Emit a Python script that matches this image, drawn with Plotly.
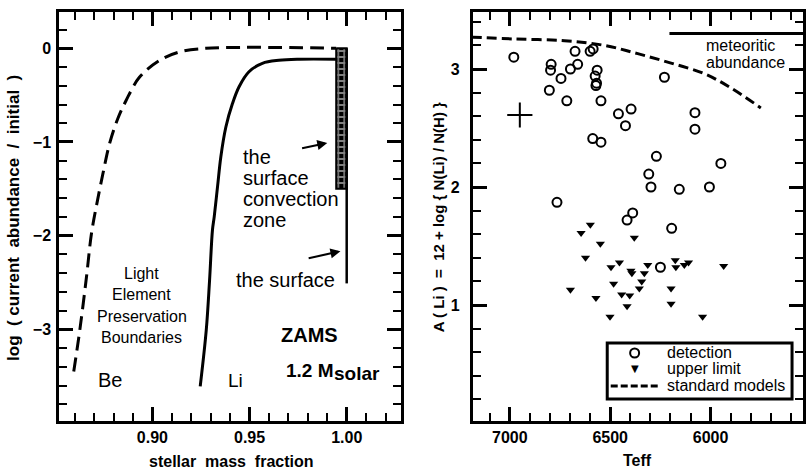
import plotly.graph_objects as go

# ---------------- data: left panel ----------------
be_mass = [0.8595, 0.8626, 0.8660, 0.8686, 0.8711, 0.8745, 0.8779, 0.8822, 0.8865,
           0.8933, 0.9036, 0.9138, 0.9275, 0.9946]
be_logab = [-3.45, -3.01, -2.45, -1.98, -1.69, -1.34, -1.02, -0.75, -0.555,
            -0.31, -0.13, -0.04, 0.0, 0.0]

li_mass = [0.9246, 0.9277, 0.9294, 0.9309, 0.9318, 0.9335, 0.9352, 0.9378, 0.9412,
           0.9446, 0.9497, 0.9566, 0.9651, 0.9754, 0.9946]
li_logab = [-3.61, -3.01, -2.48, -1.94, -1.80, -1.48, -1.16, -0.84, -0.59,
            -0.41, -0.25, -0.16, -0.128, -0.117, -0.117]

czone_mass = [0.9946, 1.0, 1.0, 0.9946, 0.9946]
czone_logab = [0.0, 0.0, -1.5, -1.5, 0.0]
surface_mass = [1.0, 1.0]
surface_logab = [0.0, -2.51]

# ---------------- data: right panel ----------------
teff_det = [6980, 6794, 6797, 6803, 6745, 6716, 6698, 6662, 6675, 6600, 6585, 6565,
            6575, 6571, 6568, 6546, 6587, 6546, 6459, 6396, 6424, 6230, 6078, 6078,
            6270, 6308, 6297, 6156, 6006, 5949, 6765, 6416, 6388, 6194, 6250]
a_det = [3.10, 3.04, 2.99, 2.82, 2.92, 2.73, 3.00, 3.04, 3.15, 3.15, 3.17, 2.99,
         2.94, 2.86, 2.88, 2.73, 2.41, 2.38, 2.62, 2.66, 2.52, 2.93, 2.63, 2.49,
         2.26, 2.11, 2.00, 1.98, 2.00, 2.20, 1.87, 1.72, 1.78, 1.65, 1.32]

teff_ul = [6599, 6645, 6380, 6549, 6623, 6454, 6496, 6397, 6392, 6313, 6330, 6343,
           6355, 6483, 6443, 6403, 6416, 6571, 6698, 6501, 6176, 6173, 6131, 6110,
           6197, 6197, 6040, 5935]
a_ul = [1.68, 1.61, 1.57, 1.52, 1.40, 1.36, 1.32, 1.29, 1.27, 1.34, 1.27, 1.20,
        1.14, 1.18, 1.09, 1.08, 0.99, 1.06, 1.13, 0.90, 1.38, 1.32, 1.34, 1.36,
        1.14, 1.01, 0.90, 1.33]

teff_model = [7190, 6977, 6728, 6529, 6363, 6197, 6031, 5899, 5750]
a_model = [3.27, 3.254, 3.24, 3.20, 3.13, 3.05, 2.96, 2.84, 2.67]

teff_err = [6950]
a_err = [2.61]

teff_met = [6205, 5400]
a_met = [3.30, 3.30]

legend_labels = ["detection", "upper limit", "standard models"]

FONT = "Liberation Sans, Arial, Helvetica, sans-serif"
W, H = 806, 473
PL, PR, PT, PB = 0, 0, 12, 52
PLOT_BOTTOM, PLOT_H = 421, 409


def px(x):
    return x / W


def py(y):
    return (PLOT_BOTTOM - y) / PLOT_H


fig = go.Figure()

# left panel traces
fig.add_trace(go.Scatter(x=be_mass, y=be_logab, mode="lines", line_shape="spline",
                         line=dict(color="black", width=3, dash="14px,7px"),
                         xaxis="x", yaxis="y"))
fig.add_trace(go.Scatter(x=li_mass, y=li_logab, mode="lines", line_shape="spline",
                         line=dict(color="black", width=3),
                         xaxis="x", yaxis="y"))
fig.add_trace(go.Scatter(x=czone_mass, y=czone_logab, mode="lines", fill="toself",
                         fillpattern=dict(shape="+", bgcolor="black", fgcolor="white",
                                          size=6, solidity=0.5),
                         line=dict(color="black", width=2),
                         xaxis="x", yaxis="y"))
fig.add_trace(go.Scatter(x=surface_mass, y=surface_logab, mode="lines",
                         line=dict(color="black", width=2.5),
                         xaxis="x", yaxis="y"))

# right panel traces
fig.add_trace(go.Scatter(x=teff_det, y=a_det, mode="markers", name=legend_labels[0],
                         marker=dict(symbol="circle-open", size=9, color="black",
                                     line=dict(width=2, color="black")),
                         xaxis="x2", yaxis="y2"))
fig.add_trace(go.Scatter(x=teff_ul, y=a_ul, mode="markers", name=legend_labels[1],
                         marker=dict(symbol="triangle-down", size=8, color="black"),
                         xaxis="x2", yaxis="y2"))
fig.add_trace(go.Scatter(x=teff_model, y=a_model, mode="lines", name=legend_labels[2],
                         line_shape="spline",
                         line=dict(color="black", width=3, dash="10px,5px"),
                         xaxis="x2", yaxis="y2"))
fig.add_trace(go.Scatter(x=teff_err, y=a_err, mode="markers",
                         marker=dict(symbol="cross-thin", size=18,
                                     line=dict(width=2, color="black")),
                         xaxis="x2", yaxis="y2"))
fig.add_trace(go.Scatter(x=teff_met, y=a_met, mode="lines",
                         line=dict(color="black", width=3),
                         xaxis="x2", yaxis="y2"))

tickfont = dict(family=FONT, size=16, color="black", weight="bold")
common = dict(showline=True, linewidth=3, linecolor="black", mirror="ticks",
              ticks="inside", ticklen=14, tickwidth=3, tickcolor="black",
              showgrid=False, zeroline=False, tickfont=tickfont)

fig.update_layout(
    width=W, height=H, margin=dict(l=PL, r=PR, t=PT, b=PB),
    paper_bgcolor="white", plot_bgcolor="white", showlegend=False,
    font=dict(family=FONT, color="black"),
    xaxis=dict(domain=[59.5 / W, 402.5 / W], range=[0.85205, 1.02795],
               tickvals=[0.90, 0.95, 1.00], ticktext=["0.90", "0.95", "1.00"],
               minor=dict(tickmode="linear", tick0=0.9, dtick=0.01, ticklen=8,
                          tickwidth=2, ticks="inside", tickcolor="black"),
               anchor="y", **common),
    yaxis=dict(domain=[0, 1], range=[-3.979, 0.3875],
               tickvals=[-3, -2, -1, 0], ticktext=["\u22123", "\u22122", "\u22121", "0"],
               minor=dict(tickmode="linear", tick0=0, dtick=0.2, ticklen=8,
                          tickwidth=2, ticks="inside", tickcolor="black"),
               anchor="x", ticklabelstandoff=2, **common),
    xaxis2=dict(domain=[474.7 / W, 1.0], range=[7183.5, 5540],
                tickvals=[7000, 6500, 6000], ticktext=["7000", "6500", "6000"],
                minor=dict(tickmode="linear", tick0=0, dtick=100, ticklen=8,
                           tickwidth=2, ticks="inside", tickcolor="black"),
                anchor="y2", **common),
    yaxis2=dict(domain=[0, 1], range=[0.017, 3.483],
                tickvals=[1, 2, 3], ticktext=["1", "2", "3"],
                minor=dict(tickmode="linear", tick0=0, dtick=0.2, ticklen=8,
                           tickwidth=2, ticks="inside", tickcolor="black"),
                anchor="x2", ticklabelstandoff=7, **common),
)


def ann(text, x, y, xref="x", yref="y", size=16, xanchor="left", bold=False, angle=0,
        family=FONT):
    t = "<b>" + text + "</b>" if bold else text
    fig.add_annotation(text=t, x=x, y=y, xref=xref, yref=yref, showarrow=False,
                       xanchor=xanchor, yanchor="middle", textangle=angle,
                       font=dict(family=family, size=size, color="black"))


# left panel labels
for txt, yy in [("the", -1.163), ("surface", -1.387), ("convection", -1.612), ("zone", -1.836)]:
    ann(txt, 0.9456, yy, size=20)
ann("the surface", 0.9420, -2.469, size=20)
for txt, yy in [("Light", -2.405), ("Element", -2.629), ("Preservation", -2.860),
                ("Boundaries", -3.088)]:
    ann(txt, 0.8946, yy, size=16, xanchor="center")
ann("Be", 0.8711, -3.543, size=20)
ann("Li", 0.9378, -3.543, size=19)
ann("ZAMS", 0.9810, -3.063, size=20, xanchor="center", bold=True)
ann("1.2 M", 0.9677, -3.436, size=19, bold=True)
ann("solar", 0.9925, -3.47, size=19, bold=True)

# arrows
fig.add_annotation(x=0.9900, y=-1.011, ax=0.97626, ay=-1.070, xref="x", yref="y",
                   axref="x", ayref="y", showarrow=True, arrowhead=2, arrowsize=1,
                   arrowwidth=2, arrowcolor="black", text="")
fig.add_annotation(x=0.99677, y=-2.167, ax=0.97964, ay=-2.244, xref="x", yref="y",
                   axref="x", ayref="y", showarrow=True, arrowhead=2, arrowsize=1,
                   arrowwidth=2, arrowcolor="black", text="")

# right panel labels
ann("meteoritic", 6035, 3.203, xref="x2", yref="y2", size=16)
ann("abundance", 6035, 3.059, xref="x2", yref="y2", size=16)

# manual legend (compact, as in the original figure)
fig.add_shape(type="rect", xref="paper", yref="paper",
              x0=px(609.5), x1=px(795), y0=py(399), y1=py(343),
              line=dict(color="black", width=3), fillcolor="white", layer="above")
fig.add_shape(type="circle", xref="paper", yref="paper", xsizemode="pixel",
              ysizemode="pixel", xanchor=px(637), yanchor=py(353),
              x0=-4.5, x1=4.5, y0=-4.5, y1=4.5,
              line=dict(color="black", width=2), layer="above")
fig.add_shape(type="line", xref="paper", yref="paper",
              x0=px(613), x1=px(663), y0=py(386), y1=py(386),
              line=dict(color="black", width=3, dash="7px,3px"), layer="above")
ann("\u25BC", px(637), py(368.5), xref="paper", yref="paper", size=10,
    xanchor="center", family="DejaVu Sans")
for lbl, yy in zip(legend_labels, [352, 368, 385]):
    ann(lbl, px(667), py(yy), xref="paper", yref="paper", size=16)

# axis titles
ann("stellar  mass  fraction", px(232), py(461), xref="paper", yref="paper",
    size=16, xanchor="center", bold=True)
ann("Teff", px(640), py(460), xref="paper", yref="paper",
    size=16, xanchor="center", bold=True)
ann("log  ( current  abundance  /  initial  )", px(13), py(218),
    xref="paper", yref="paper", size=17, xanchor="center", bold=True, angle=-90)
ann("A ( Li )  =  12 + log { N(Li) / N(H) }", px(441), py(217),
    xref="paper", yref="paper", size=15, xanchor="center", bold=True, angle=-90)

fig.write_html("out.html")
